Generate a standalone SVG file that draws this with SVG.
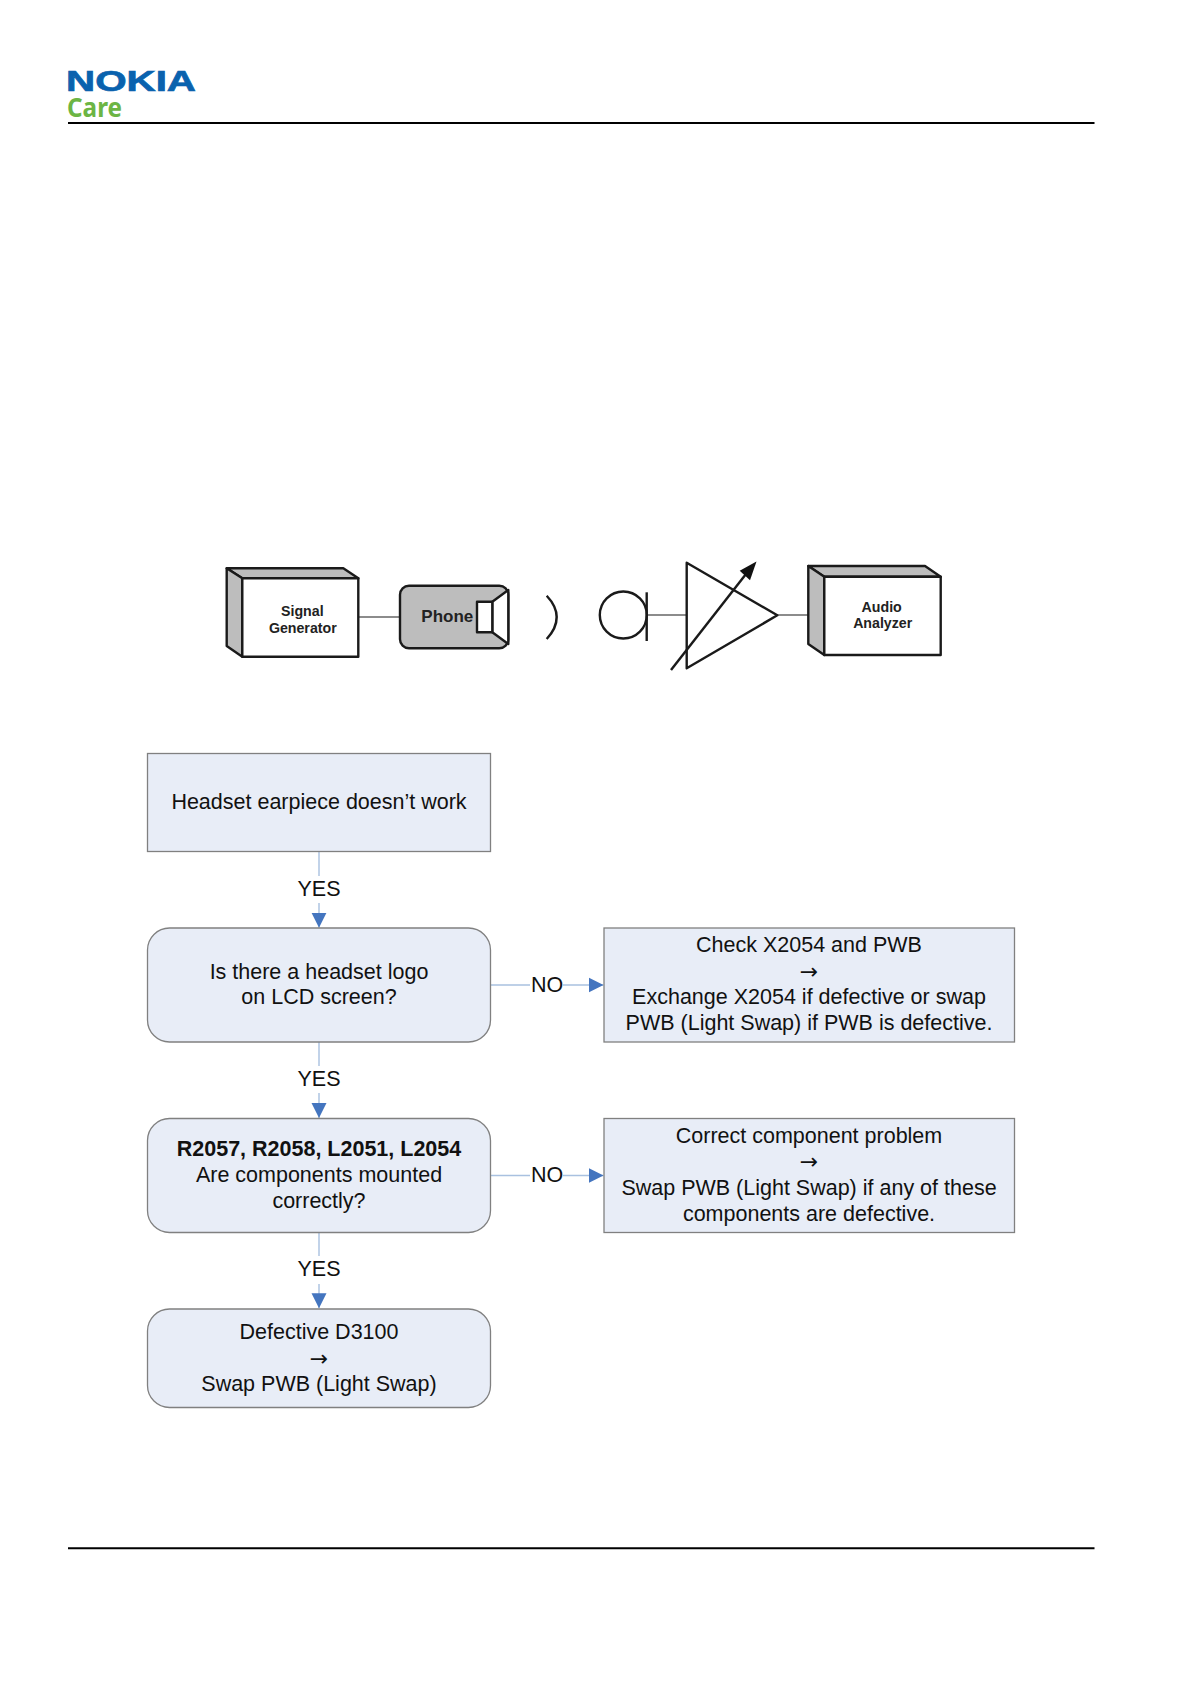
<svg xmlns="http://www.w3.org/2000/svg" width="1191" height="1684" viewBox="0 0 1191 1684">
<style>
text{font-family:"Liberation Sans",Arial,sans-serif;fill:#111}
.t{font-size:21.5px;text-anchor:middle}
.a{font-family:"DejaVu Sans",sans-serif;font-size:22px;text-anchor:middle}
.b{font-weight:bold}
.box{fill:#e8edf7;stroke:#808080;stroke-width:1.3}
.e{fill:none;stroke:#a9c1e0;stroke-width:1.4}
.k{stroke:#1a1a1a;stroke-width:2.4;fill:#fff;stroke-linejoin:round}
.g{fill:#bdbdbd}
.w{stroke:#666;stroke-width:1.5;fill:none}
.s{font-size:14.2px;font-weight:bold;text-anchor:middle;fill:#222}
</style>
<defs>
<marker id="ah" markerUnits="userSpaceOnUse" markerWidth="15" markerHeight="16" refX="15" refY="8" orient="auto">
<path d="M0 0.5L15 8L0 15.5Z" fill="#4475bf"/>
</marker>
</defs>
<rect width="1191" height="1684" fill="#fff"/>
<g id="header">
<text x="66" y="91" font-size="29" font-weight="bold" textLength="130" lengthAdjust="spacingAndGlyphs" style="fill:#0a62ae;stroke:#0a62ae;stroke-width:.7">NOKIA</text>
<text x="67" y="117" font-size="27" font-weight="bold" textLength="55" lengthAdjust="spacingAndGlyphs" style="font-family:'Noto Sans',sans-serif;fill:#6cb544">Care</text>
<line x1="68" y1="123" x2="1094.5" y2="123" stroke="#000" stroke-width="2"/>
</g>
<g id="footer"><line x1="68" y1="1548.3" x2="1094.5" y2="1548.3" stroke="#000" stroke-width="2"/></g>

<g id="setup-wires">
<line class="w" x1="358.3" y1="617" x2="400" y2="617"/>
<line class="w" x1="647" y1="615" x2="687" y2="615"/>
<line class="w" x1="777" y1="615" x2="809" y2="615"/>
</g>
<g id="signal-generator">
<path class="k g" d="M226.7 568.3H343.3L358.3 578.3H242.3Z"/>
<path class="k g" d="M226.7 568.3L242.3 578.3V656.7L226.7 646Z"/>
<rect class="k" x="242.3" y="578.3" width="116" height="78.4"/>
<text class="s" x="302.3" y="616">Signal</text>
<text class="s" x="302.8" y="632.7">Generator</text>
</g>
<g id="phone">
<rect class="k g" x="400" y="585.7" width="108.3" height="62.6" rx="9"/>
<path class="k" d="M492.3 601.7L508.3 590V644L492.3 632.3Z"/>
<rect class="k" x="477" y="601.7" width="15.3" height="30.6"/>
<text x="447.3" y="622" font-size="17" font-weight="bold" text-anchor="middle" style="fill:#222">Phone</text>
</g>
<g id="sound-wave"><path d="M546.7 595.7Q566.7 617 546.7 639" fill="none" stroke="#1a1a1a" stroke-width="2.4"/></g>
<g id="microphone">
<circle class="k" cx="623.3" cy="615" r="23.5"/>
<line x1="646.7" y1="592.3" x2="646.7" y2="641" stroke="#1a1a1a" stroke-width="2.4"/>
</g>
<g id="amplifier">
<path class="k" d="M686.7 562.7L777.3 615.3L686.7 668.3Z"/>
<line x1="671" y1="670" x2="746" y2="574" stroke="#1a1a1a" stroke-width="2.4"/>
<path d="M756.5 561.5L739.7 570.7L750 580.3Z" fill="#111"/>
</g>
<g id="audio-analyzer">
<path class="k g" d="M808.3 566H925L940.7 576.7H824.3Z"/>
<path class="k g" d="M808.3 566L824.3 576.7V655L808.3 644Z"/>
<rect class="k" x="824.3" y="576.7" width="116.4" height="78.3"/>
<text class="s" x="881.7" y="611.7">Audio</text>
<text class="s" x="882.7" y="628.3">Analyzer</text>
</g>

<g id="connectors">
<path class="e" d="M319 851.7V876M319 903V927.7" marker-end="url(#ah)"/>
<path class="e" d="M319 1042V1066M319 1093V1118" marker-end="url(#ah)"/>
<path class="e" d="M319 1232.7V1256M319 1284V1308.3" marker-end="url(#ah)"/>
<path class="e" d="M490.3 985H530M563 985H603.5" marker-end="url(#ah)"/>
<path class="e" d="M490.3 1175.5H530M563 1175.5H603.5" marker-end="url(#ah)"/>
<text class="t" x="319" y="896">YES</text>
<text class="t" x="319" y="1086">YES</text>
<text class="t" x="319" y="1276">YES</text>
<text class="t" x="547" y="991.5">NO</text>
<text class="t" x="547" y="1181.5">NO</text>
</g>

<g id="n-start">
<rect class="box" x="147.5" y="753.5" width="343" height="98"/>
<text class="t" x="319" y="809">Headset earpiece doesn’t work</text>
</g>
<g id="n-logo">
<rect class="box" x="147.5" y="928" width="343" height="114" rx="22"/>
<text class="t" x="319" y="978.5">Is there a headset logo</text>
<text class="t" x="319" y="1004">on LCD screen?</text>
</g>
<g id="n-check">
<rect class="box" x="604" y="928" width="410.5" height="114"/>
<text class="t" x="809" y="952">Check X2054 and PWB</text>
<text class="a" x="809" y="979">→</text>
<text class="t" x="809" y="1004">Exchange X2054 if defective or swap</text>
<text class="t" x="809" y="1030">PWB (Light Swap) if PWB is defective.</text>
</g>
<g id="n-components">
<rect class="box" x="147.5" y="1118.5" width="343" height="114" rx="22"/>
<text class="t b" x="319" y="1156">R2057, R2058, L2051, L2054</text>
<text class="t" x="319" y="1182">Are components mounted</text>
<text class="t" x="319" y="1208">correctly?</text>
</g>
<g id="n-correct">
<rect class="box" x="604" y="1118.5" width="410.5" height="114"/>
<text class="t" x="809" y="1142.5">Correct component problem</text>
<text class="a" x="809" y="1169">→</text>
<text class="t" x="809" y="1194.5">Swap PWB (Light Swap) if any of these</text>
<text class="t" x="809" y="1220.5">components are defective.</text>
</g>
<g id="n-defective">
<rect class="box" x="147.5" y="1309" width="343" height="98.5" rx="22"/>
<text class="t" x="319" y="1339">Defective D3100</text>
<text class="a" x="319" y="1366">→</text>
<text class="t" x="319" y="1390.5">Swap PWB (Light Swap)</text>
</g>
</svg>
